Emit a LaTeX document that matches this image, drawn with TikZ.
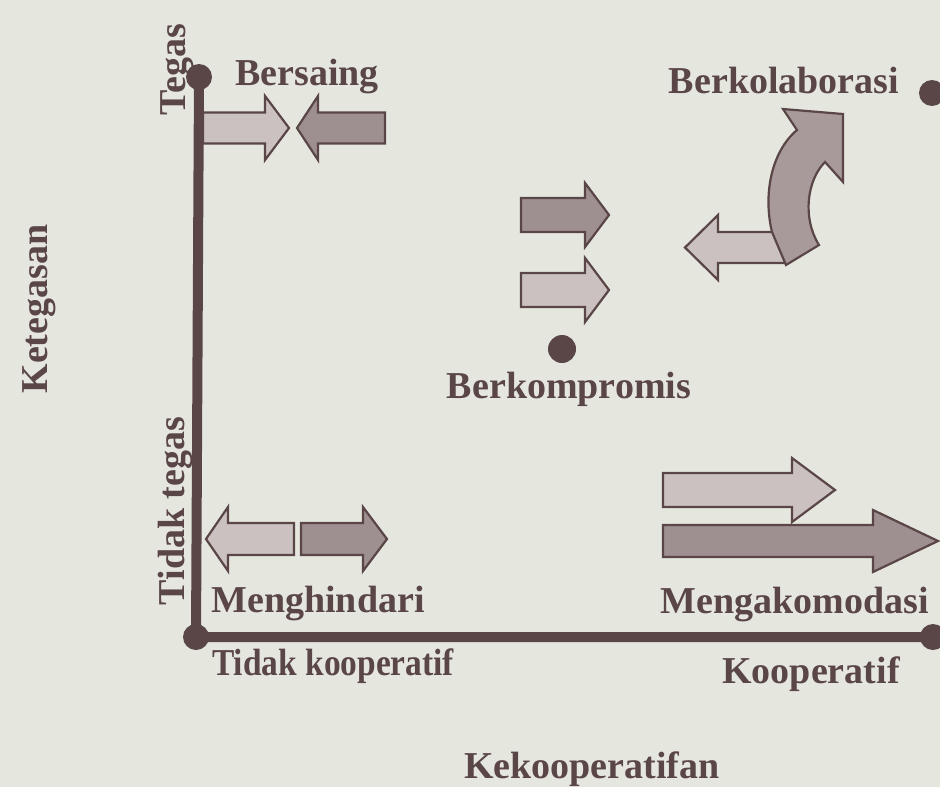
\documentclass[tikz,border=0pt]{standalone}
\usepackage{fontspec}
\setmainfont{Liberation Serif}
\definecolor{bgc}{HTML}{E5E7DF}
\definecolor{inkc}{HTML}{5B4647}
\definecolor{lightfill}{HTML}{CBC1C1}
\definecolor{darkfill}{HTML}{9E8F90}
\definecolor{midfill}{HTML}{A89A9A}
\newcommand\blockarrow[7]{% style, x0, xh, xt, yc, s, h
  \filldraw[#1] (#2,#5-#6) -- (#3,#5-#6) -- (#3,#5-#7) -- (#4,#5) -- (#3,#5+#7) -- (#3,#5+#6) -- (#2,#5+#6) -- cycle;}
\begin{document}
\begin{tikzpicture}[x=1pt,y=-1pt,
  lbl/.style={font=\fontsize{38}{40}\selectfont\bfseries, text=inkc, inner sep=0pt},
  dotn/.style={circle, fill=inkc, minimum size=26pt, inner sep=0pt},
  axis/.style={draw=inkc, line width=10pt},
  lightarr/.style={fill=lightfill, draw=inkc, line width=2.2pt, line join=miter},
  darkarr/.style={fill=darkfill, draw=inkc, line width=2.2pt, line join=miter},
  midarr/.style={fill=midfill, draw=inkc, line width=2.2pt, line join=miter}]
\fill[bgc] (0,0) rectangle (940,787);
\useasboundingbox (0,0) rectangle (940,787);
% axes
\node[dotn] (top) at (199,77) {};
\node[dotn] (corner) at (196,637) {};
\node[dotn] (right) at (933,637) {};
\draw[axis] (top.center) -- (corner.center) -- (right.center);
% Bersaing arrows
\blockarrow{lightarr}{203}{265}{289}{128}{15.5}{32}
\blockarrow{darkarr}{385}{318}{297}{128}{15.5}{32}
% Berkompromis arrows
\blockarrow{darkarr}{521}{585}{609}{215}{17}{32}
\blockarrow{lightarr}{521}{585}{609}{290}{17}{32}
\node[dotn, minimum size=28pt] (komp) at (562,349) {};
% Berkolaborasi
\node[dotn] (kol) at (932,93) {};
\blockarrow{lightarr}{786}{718}{685}{247.5}{15.5}{32.5}
\filldraw[midarr] (786,265) -- (772,232) .. controls (763,195) and (771,152) .. (797,130)
  -- (783,109) -- (843,114) -- (843,182) -- (825,162)
  .. controls (807,180) and (802,218) .. (819,245) -- cycle;
% Menghindari arrows
\blockarrow{lightarr}{294}{228}{206}{539}{16}{32}
\blockarrow{darkarr}{301}{363}{387}{539}{16}{32}
% Mengakomodasi arrows
\blockarrow{lightarr}{663}{792}{835}{490}{17}{32}
\blockarrow{darkarr}{663}{873}{938}{541}{16}{31}
% labels
\node[lbl, anchor=base] (bersaing) at (307,85) {Bersaing};
\node[lbl, anchor=base] (berkolab) at (784,93) {Berkolaborasi};
\node[lbl, anchor=base] (berkomp) at (569,398) {Berkompromis};
\node[lbl, anchor=base] (menghindari) at (318,612) {Menghindari};
\node[lbl, anchor=base] (mengakom) at (795,613) {Mengakomodasi};
\node[lbl, anchor=base west] (tidakkoop) at (212,675) {\scalebox{0.88}[1]{Tidak kooperatif}};
\node[lbl, anchor=base] (koop) at (811,683) {Kooperatif};
\node[lbl, anchor=base] (kekoop) at (592,778) {Kekooperatifan};
\node[lbl, anchor=base, rotate=90] (tegas) at (185,70) {Tegas};
\node[lbl, anchor=base, rotate=90] (ketegasan) at (47,309) {Ketegasan};
\node[lbl, anchor=base, rotate=90] (tidaktegas) at (184,511) {Tidak tegas};
\end{tikzpicture}
\end{document}
